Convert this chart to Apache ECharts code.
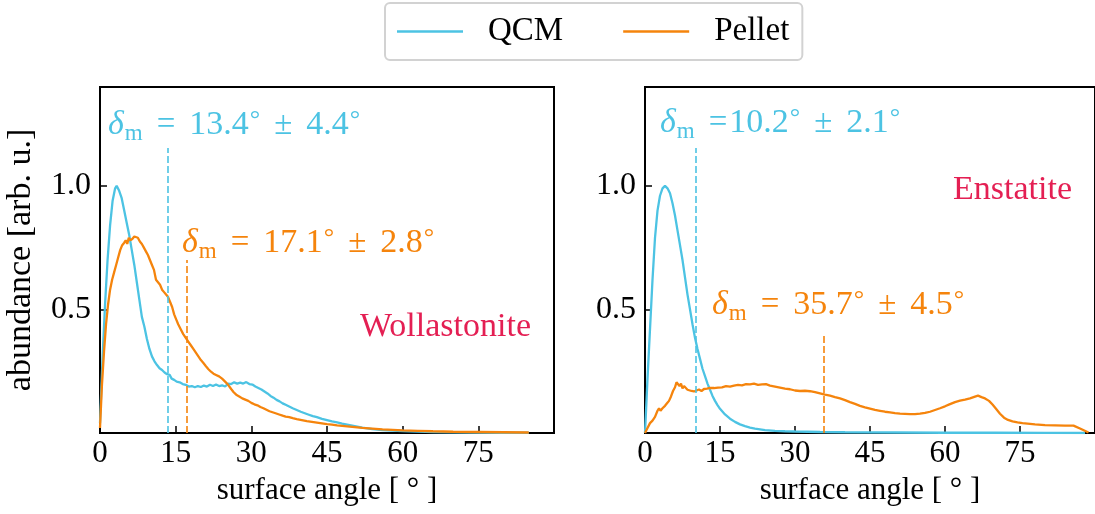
<!DOCTYPE html>
<html><head><meta charset="utf-8">
<script src="https://cdn.jsdelivr.net/npm/echarts@6/dist/echarts.min.js"></script>
<style>html,body{margin:0;padding:0;background:#fff}#c{width:1095px;height:514px}</style>
</head><body><div id="c"></div>
<script>
// ---------- data ----------
const xTickLabels = [0, 15, 30, 45, 60, 75];
const yTickLabels = [0.5, 1.0];
const seriesNames = ['QCM', 'Pellet'];
const panelNames = ['Wollastonite', 'Enstatite'];

// Wollastonite, QCM  [angle, abundance]
const wollQcm = [[0,0.04],[0.5,0.3],[1,0.52],[1.5,0.7],[2,0.84],[2.5,0.94],[3,0.99],[3.3,1.0],[3.8,0.98],[4.3,0.95],[4.8,0.9],[5.3,0.85],[5.8,0.8],[6.3,0.74],[6.8,0.68],[7.3,0.61],[7.8,0.54],[8.3,0.47],[8.8,0.43],[9.3,0.38],[9.8,0.34],[10.3,0.31],[10.8,0.29],[11.3,0.275],[11.8,0.262],[12.3,0.255],[12.8,0.245],[13.3,0.238],[13.8,0.235],[14.2,0.22],[14.7,0.215],[15.2,0.208],[15.8,0.205],[16.4,0.198],[17,0.195],[17.6,0.188],[18.2,0.19],[18.8,0.185],[19.4,0.19],[20,0.186],[20.6,0.192],[21.2,0.188],[21.8,0.195],[22.4,0.19],[23,0.196],[23.6,0.19],[24.2,0.193],[24.8,0.188],[25.4,0.2],[26,0.198],[26.6,0.205],[27.2,0.2],[27.8,0.204],[28.4,0.2],[29,0.206],[29.6,0.198],[30.2,0.196],[30.8,0.188],[31.4,0.182],[32,0.176],[32.6,0.168],[33.2,0.16],[33.8,0.15],[34.4,0.143],[35,0.134],[35.6,0.128],[36.2,0.12],[36.8,0.114],[37.5,0.107],[38.2,0.1],[39,0.093],[39.8,0.086],[40.6,0.08],[41.4,0.074],[42.2,0.068],[43,0.064],[44,0.057],[45,0.052],[46,0.047],[47,0.043],[48,0.038],[49,0.034],[50,0.03],[51,0.026],[52,0.022],[53,0.019],[54,0.016],[55,0.014],[56,0.012],[58,0.01],[60,0.008],[63,0.006],[66,0.004],[70,0.003],[75,0.002],[80,0.001],[85,0.001]];

// Wollastonite, Pellet
const wollPellet = [[0,0.02],[0.4,0.2],[0.8,0.33],[1.2,0.44],[1.6,0.52],[2.0,0.58],[2.4,0.62],[2.8,0.65],[3.2,0.68],[3.6,0.71],[4.0,0.74],[4.4,0.76],[4.8,0.77],[5.1,0.78],[5.4,0.765],[5.7,0.79],[6.0,0.78],[6.4,0.785],[6.8,0.795],[7.1,0.8],[7.5,0.79],[7.9,0.775],[8.3,0.765],[8.7,0.75],[9.1,0.735],[9.5,0.72],[9.9,0.7],[10.3,0.68],[10.7,0.66],[11.1,0.62],[11.5,0.61],[11.9,0.6],[12.3,0.58],[12.7,0.57],[13.1,0.56],[13.5,0.55],[13.9,0.53],[14.3,0.51],[14.7,0.48],[15.1,0.46],[15.5,0.44],[16,0.42],[16.5,0.4],[17,0.385],[17.5,0.37],[18,0.355],[18.5,0.34],[19,0.325],[19.5,0.31],[20,0.295],[20.5,0.283],[21,0.27],[21.5,0.258],[22,0.248],[22.5,0.24],[23,0.235],[23.6,0.229],[24.2,0.22],[24.8,0.208],[25.4,0.195],[26,0.178],[26.5,0.165],[27,0.155],[27.6,0.148],[28.2,0.14],[28.8,0.135],[29.4,0.13],[30,0.122],[30.6,0.116],[31.2,0.112],[31.8,0.105],[32.4,0.1],[33,0.094],[33.6,0.088],[34.2,0.084],[34.8,0.08],[35.5,0.075],[36.2,0.07],[36.8,0.066],[37.5,0.064],[38.2,0.06],[39,0.056],[40,0.052],[41,0.048],[42,0.045],[43,0.042],[44,0.039],[45,0.036],[46,0.034],[47,0.031],[48,0.029],[50,0.025],[52,0.021],[54,0.018],[56,0.015],[58,0.013],[60,0.011],[63,0.009],[66,0.007],[70,0.005],[75,0.004],[80,0.003],[85,0.002]];

// Enstatite, QCM
const enstQcm = [[0,0.0],[0.5,0.22],[1,0.42],[1.5,0.62],[2,0.79],[2.5,0.9],[3,0.96],[3.5,0.99],[4,1.0],[4.5,0.99],[5,0.97],[5.5,0.93],[6,0.88],[6.5,0.82],[7,0.76],[7.5,0.7],[8,0.63],[8.5,0.56],[9,0.5],[9.5,0.44],[10,0.385],[10.5,0.34],[11,0.3],[11.5,0.26],[12,0.23],[12.5,0.2],[13,0.175],[13.5,0.15],[14,0.13],[14.5,0.113],[15,0.098],[16,0.075],[17,0.058],[18,0.045],[19,0.035],[20,0.028],[21,0.022],[22,0.018],[24,0.012],[26,0.009],[28,0.007],[30,0.006],[35,0.004],[40,0.003],[50,0.002],[60,0.001],[70,0.001],[80,0.0005],[88,0]];

// Enstatite, Pellet
const enstPellet = [[0,0.0],[0.5,0.02],[1,0.04],[1.5,0.05],[2,0.065],[2.5,0.09],[2.8,0.1],[3.1,0.09],[3.5,0.1],[4,0.11],[4.4,0.12],[4.8,0.13],[5.2,0.148],[5.6,0.17],[6,0.185],[6.3,0.205],[6.6,0.21],[6.9,0.19],[7.2,0.2],[7.5,0.18],[7.8,0.19],[8.1,0.195],[8.5,0.175],[8.9,0.178],[9.3,0.17],[9.8,0.168],[10.3,0.172],[10.8,0.176],[11.3,0.17],[11.8,0.178],[12.4,0.18],[13,0.183],[13.8,0.182],[14.6,0.184],[15.4,0.185],[16.2,0.19],[17,0.188],[17.8,0.192],[18.6,0.195],[19.4,0.193],[20.2,0.198],[21,0.197],[21.8,0.2],[22.6,0.195],[23.4,0.197],[24.2,0.198],[25,0.192],[26,0.188],[27,0.184],[28,0.18],[29,0.177],[30,0.172],[31,0.17],[32,0.171],[33,0.169],[34,0.165],[35,0.16],[36,0.155],[37,0.151],[38,0.145],[39,0.14],[40,0.133],[41,0.125],[42,0.118],[43,0.11],[44,0.104],[45,0.099],[46,0.094],[47,0.09],[48,0.086],[49,0.083],[50,0.08],[51,0.078],[52,0.077],[53,0.076],[54,0.076],[55,0.078],[56,0.081],[57,0.086],[58,0.093],[59,0.1],[60,0.108],[61,0.117],[62,0.125],[63,0.131],[64,0.135],[65,0.14],[66,0.147],[66.6,0.151],[67.3,0.145],[68,0.14],[68.8,0.13],[69.5,0.115],[70.2,0.098],[71,0.078],[71.8,0.062],[72.6,0.053],[73.5,0.047],[74.5,0.043],[75.5,0.04],[76.5,0.038],[78,0.035],[80,0.032],[82,0.031],[84,0.03],[85.7,0.03],[87,0.018],[88.7,0.002]];

// mean surface angle and its error: [QCM, Pellet]
const wollMean = [13.4, 17.1];
const wollErr = [4.4, 2.8];
const enstMean = [10.2, 35.7];
const enstErr = [2.1, 4.5];
// height reached by each dashed mean marker: [QCM, Pellet]
const wollMarkTop = [1.153, 0.70];
const enstMarkTop = [1.153, 0.40];

// ---------- styling ----------
const FONT = 'Liberation Serif';
const C_QCM = '#4cc3e3';
const C_PEL = '#f5840c';
const C_NAME = '#e41f53';

const chart = echarts.init(document.getElementById('c'), null, {renderer: 'canvas'});

function xAxisCfg(grid) {
  return {
    type: 'value', gridIndex: grid, min: 0, max: 90, interval: 15,
    name: 'surface angle [ ° ]', nameLocation: 'middle', nameGap: 42,
    nameTextStyle: {fontFamily: FONT, fontSize: 31, color: '#000'},
    axisLine: {show: false},
    axisTick: {show: true, inside: true, length: 7, lineStyle: {color: '#000', width: 1.5}},
    axisLabel: {
      show: true, margin: 5, fontFamily: FONT, fontSize: 31, color: '#000',
      showMaxLabel: false,
      formatter: v => xTickLabels.includes(v) ? String(v) : ''
    },
    splitLine: {show: false}
  };
}
function yAxisCfg(grid, withName) {
  return {
    type: 'value', gridIndex: grid, min: 0, max: 1.4, interval: 0.5,
    name: withName ? 'abundance [arb. u.]' : '', nameLocation: 'middle', nameGap: 62,
    nameTextStyle: {fontFamily: FONT, fontSize: 34, color: '#000'},
    axisLine: {show: false},
    axisTick: {show: true, inside: true, length: 7, lineStyle: {color: '#000', width: 1.5}},
    axisLabel: {
      show: true, margin: 9, fontFamily: FONT, fontSize: 32, color: '#000',
      showMaxLabel: false,
      formatter: v => yTickLabels.some(t => Math.abs(t - v) < 1e-9) ? v.toFixed(1) : ''
    },
    splitLine: {show: false}
  };
}

function lineSeries(name, grid, data, color, meanX, top) {
  return {
    name, type: 'line', xAxisIndex: grid, yAxisIndex: grid, data,
    symbol: 'none', showSymbol: false, smooth: false, clip: true,
    lineStyle: {color, width: 2.3}, itemStyle: {color},
    z: 3,
    markLine: {
      silent: true, symbol: ['none', 'none'], animation: false,
      label: {show: false},
      lineStyle: {color, width: 1.6, type: [7, 3]},
      data: [[{coord: [meanX, 0]}, {coord: [meanX, top]}]]
    }
  };
}

const rich = {
  d: {fontFamily: FONT, fontStyle: 'italic', fontSize: 34},
  s: {fontFamily: FONT, fontSize: 23, padding: [17, 0, 0, 1]},
  op: {fontFamily: FONT, fontSize: 33, padding: [0, 14, 0, 14]},
  opL: {fontFamily: FONT, fontSize: 33, padding: [0, 2, 0, 14]},
  t: {fontFamily: FONT, fontSize: 34},
  g: {fontFamily: FONT, fontSize: 26, padding: [0, 0, 10, 1]}
};
function meanText(m, e, tight) {
  return '{d|δ}{s|m}{' + (tight ? 'opL' : 'op') + '|=}{t|' + m.toFixed(1) + '}{g|°}{op|±}{t|' + e.toFixed(1) + '}{g|°}';
}
function label(x, y, text, color, useRich) {
  const style = {x, y, text, fill: color, verticalAlign: 'middle', align: 'left',
    font: '34px "' + FONT + '"'};
  if (useRich) style.rich = rich;
  return {type: 'text', z: 10, style};
}

const option = {
  animation: false,
  backgroundColor: '#fff',
  textStyle: {fontFamily: FONT},
  legend: {
    data: [
      {name: seriesNames[0], icon: 'rect', itemStyle: {color: C_QCM}},
      {name: seriesNames[1], icon: 'rect', itemStyle: {color: C_PEL}}
    ],
    left: 385, top: 3,
    padding: [12, 13, 12, 12], itemGap: 60, itemWidth: 66, itemHeight: 2.5,
    borderColor: '#d2d2d2', borderWidth: 2, borderRadius: 5,
    textStyle: {fontFamily: FONT, fontSize: 33, color: '#000', padding: [0, 0, 0, 20], lineHeight: 31}
  },
  grid: [
    {left: 100, top: 87, width: 454, height: 346, show: true, borderColor: '#000', borderWidth: 2, backgroundColor: 'transparent'},
    {left: 645, top: 87, width: 458, height: 346, show: true, borderColor: '#000', borderWidth: 2, backgroundColor: 'transparent'}
  ],
  xAxis: [xAxisCfg(0), xAxisCfg(1)],
  yAxis: [yAxisCfg(0, true), yAxisCfg(1, false)],
  series: [
    lineSeries(seriesNames[0], 0, wollQcm, C_QCM, wollMean[0], wollMarkTop[0]),
    lineSeries(seriesNames[1], 0, wollPellet, C_PEL, wollMean[1], wollMarkTop[1]),
    lineSeries(seriesNames[0], 1, enstQcm, C_QCM, enstMean[0], enstMarkTop[0]),
    lineSeries(seriesNames[1], 1, enstPellet, C_PEL, enstMean[1], enstMarkTop[1])
  ],
  graphic: [
    label(108, 125, meanText(wollMean[0], wollErr[0], false), C_QCM, true),
    label(182, 243, meanText(wollMean[1], wollErr[1], false), C_PEL, true),
    label(660, 123, meanText(enstMean[0], enstErr[0], true), C_QCM, true),
    label(712, 305, meanText(enstMean[1], enstErr[1], false), C_PEL, true),
    label(360, 327, panelNames[0], C_NAME, false),
    label(953, 190, panelNames[1], C_NAME, false)
  ]
};
chart.setOption(option);
</script></body></html>
